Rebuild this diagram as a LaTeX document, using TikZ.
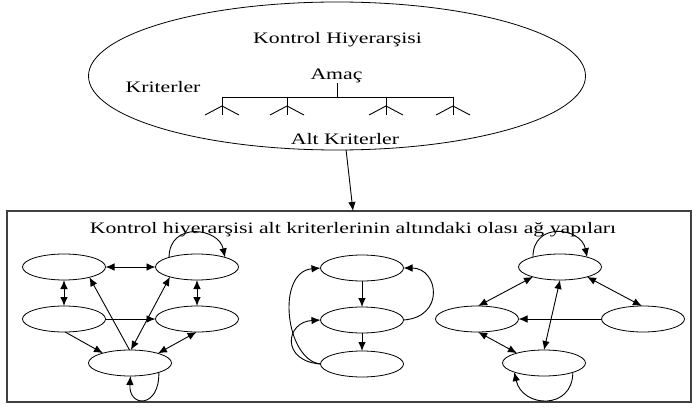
\documentclass[tikz,border=0pt]{standalone}
\usepackage{fontspec}
\setmainfont{Liberation Serif}[FakeStretch=1.36]
\usetikzlibrary{arrows.meta,shapes.geometric,calc}
\begin{document}
\begin{tikzpicture}[x=1pt,y=-1pt,
  every node/.style={font=\fontsize{16}{19}\selectfont},
  stateov/.style={draw, ellipse, minimum width=83pt, minimum height=26pt,
    inner sep=0pt, outer sep=0pt, line width=0.8pt},
  lbl/.style={anchor=base, inner sep=0pt},
  conn/.style={line width=0.9pt},
  tipped/.style={conn, -{Latex[length=9pt,width=7.5pt]}},
  twoway/.style={conn, {Latex[length=9pt,width=7.5pt]}-{Latex[length=9pt,width=7.5pt]}},
]
\useasboundingbox (0,0) rectangle (692,409);

% control hierarchy
\node[draw, ellipse, minimum width=497pt, minimum height=148pt, inner sep=0pt,
  outer sep=0pt, line width=0.8pt] (hier) at (337,76) {};
\node[lbl] (khtitle) at (337.5,44) {Kontrol Hiyerarşisi};
\node[lbl] (goal) at (336.5,80) {Amaç};
\node[lbl] (crit) at (163,92.5) {Kriterler};
\node[lbl] (subcrit) at (345,144) {Alt Kriterler};

% tree of criteria
\draw[conn] (337,83) -- (337,97);
\draw[conn] (222,97) -- (453,97);
\foreach \x in {222,287,386,453} {
  \draw[conn] (\x,97) -- (\x,115);
  \draw[conn] (\x-17,115) -- (\x,106) -- (\x+17,115);
}

% frame of possible network structures
\node[draw=black!75, rectangle, minimum width=684pt, minimum height=191pt,
  inner sep=0pt, outer sep=0pt, line width=1.1pt] (box) at (349,306.5) {};
\node[lbl] (boxtitle) at (353,233) {Kontrol hiyerarşisi alt kriterlerinin altındaki olası ağ yapıları};
\draw[tipped] (hier.-83) -- ($(box.north)+(4,0)$);

% left network
\node[stateov] (A) at (64,267) {};
\node[stateov] (B) at (197,267) {};
\node[stateov] (C) at (64,319) {};
\node[stateov] (D) at (197,319) {};
\node[stateov] (E) at (130,363) {};
\draw[twoway] (A.east) -- (B.west);
\draw[twoway] (A.south) -- (C.north);
\draw[twoway] (B.south) -- (D.north);
\draw[tipped] (C.east) -- (D.west);
\draw[tipped] (C.-85) -- (E.160);
\draw[tipped] (E.92) -- (A.-22);
\draw[twoway] (E.86) -- (B.200);
\draw[twoway] (E.19) -- (D.-92);
\draw[tipped] (E.-18) .. controls +(1,36) and +(-2,32) .. (E.-88);
\draw[tipped] (B.161) .. controls +(0,-36) and +(-6,-30) .. (B.19);

% middle network
\node[stateov] (F) at (362,268) {};
\node[stateov] (G) at (362,320) {};
\node[stateov] (H) at (362,364) {};
\draw[tipped] (F.south) -- (G.north);
\draw[tipped] (G.south) -- (H.north);
\draw[tipped] (G.east) .. controls +(42,-3) and +(35,0) .. (F.east);
\draw[tipped] (H.west) .. controls +(-35,-4) and +(-45,4) .. (F.west);
\draw[tipped] (H.west) .. controls +(-40,-3) and +(-35,2) .. (G.west);

% right network
\node[stateov] (I) at (560,267) {};
\node[stateov] (J) at (477,319) {};
\node[stateov] (K) at (643,319) {};
\node[stateov] (L) at (544,363) {};
\draw[twoway] (I.200) -- (J.85);
\draw[twoway] (I.-20) -- (K.95);
\draw[tipped] (K.west) -- (J.east);
\draw[twoway] (I.-90) -- (L.90);
\draw[twoway] (J.-85) -- (L.160);
\draw[tipped] (I.160) .. controls +(0,-36) and +(-6,-30) .. (I.20);
\draw[tipped] (L.-18) .. controls +(0,38) and +(8,36) .. (L.197);
\end{tikzpicture}
\end{document}
